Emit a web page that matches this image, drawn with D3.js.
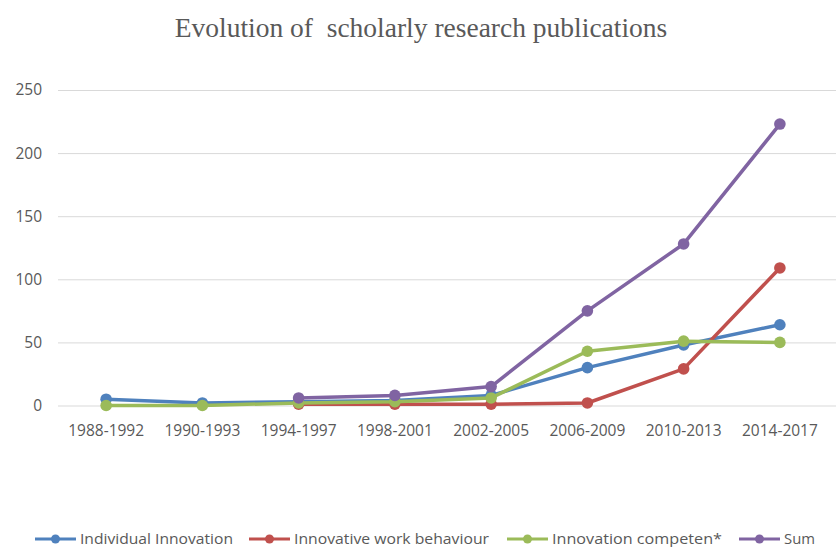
<!DOCTYPE html>
<html><head><meta charset="utf-8">
<script src="https://cdn.jsdelivr.net/npm/d3@7"></script>
<style>body{margin:0;background:#fff}svg{display:block}</style>
</head><body>
<svg id="c" width="836" height="547"></svg>
<script>
const categories = ["1988-1992","1990-1993","1994-1997","1998-2001","2002-2005","2006-2009","2010-2013","2014-2017"];
const individualInnovation = [5, 2, 3, 4, 8, 30, 48, 64];
const innovativeWorkBehaviour = [null, null, 1, 1, 1, 2, 29, 109];
const innovationCompeten = [0, 0, 2, 3, 6, 43, 51, 50];
const sumValues = [null, null, 6, 8, 15, 75, 128, 223];
const yTicks = [0, 50, 100, 150, 200, 250];
const seriesNames = ["Individual Innovation","Innovative work behaviour","Innovation competen*","Sum"];
const colors = ["#4F81BD","#C0504D","#9BBB59","#8064A2"];
const seriesData = [individualInnovation, innovativeWorkBehaviour, innovationCompeten, sumValues];

const svg = d3.select("#c");
const x = d3.scaleBand().domain(categories).range([58, 828]);
const y = d3.scaleLinear().domain([0, 250]).range([405.5, 90]);

svg.append("text").attr("x", 421).attr("y", 37).attr("text-anchor","middle")
  .attr("font-family","Liberation Serif, serif").attr("font-size", 27.5).attr("fill","#595959")
  .style("white-space","pre").text("Evolution of  scholarly research publications");

const yAxis = svg.append("g").attr("transform","translate(58,0)")
  .call(d3.axisLeft(y).tickValues(yTicks).tickSize(-778).tickPadding(16));
yAxis.select(".domain").remove();
yAxis.selectAll("line").attr("stroke","#d9d9d9").attr("stroke-width",1);
yAxis.selectAll("text").attr("fill","#595959").attr("font-family","Open Sans, sans-serif").attr("font-size",15.5);

const xAxis = svg.append("g").attr("transform","translate(0,405.5)")
  .call(d3.axisBottom(x).tickSize(0).tickPadding(19));
xAxis.select(".domain").remove();
xAxis.selectAll("text").attr("fill","#595959").attr("font-family","Open Sans, sans-serif").attr("font-size",15.5);

const cx = d => x(d) + x.bandwidth()/2;
const line = d3.line().defined(d => d.v !== null).x(d => cx(d.c)).y(d => y(d.v));
seriesData.forEach((arr, i) => {
  const pts = categories.map((c, j) => ({c, v: arr[j]}));
  svg.append("path").datum(pts).attr("d", line).attr("fill","none")
    .attr("stroke", colors[i]).attr("stroke-width", 3.5).attr("stroke-linejoin","round");
  svg.selectAll(null).data(pts.filter(d => d.v !== null)).enter().append("circle")
    .attr("cx", d => cx(d.c)).attr("cy", d => y(d.v)).attr("r", 5.8).attr("fill", colors[i]);
});

// legend
const legendX = [35, 249, 507, 739];
const legendW = [153, 195, 170, 31];
const lg = svg.append("g");
seriesNames.forEach((n, i) => {
  const g = lg.append("g").attr("transform", `translate(${legendX[i]},539)`);
  g.append("line").attr("x1",0).attr("x2",41).attr("y1",0).attr("y2",0).attr("stroke",colors[i]).attr("stroke-width",3.2);
  g.append("circle").attr("cx",20.5).attr("cy",0).attr("r",4.5).attr("fill",colors[i]);
  g.append("text").attr("x",45).attr("y",5).attr("fill","#595959")
    .attr("font-family","Open Sans, sans-serif").attr("font-size",14.5)
    .attr("textLength", legendW[i]).attr("lengthAdjust","spacingAndGlyphs").text(n);
});
</script>
</body></html>
